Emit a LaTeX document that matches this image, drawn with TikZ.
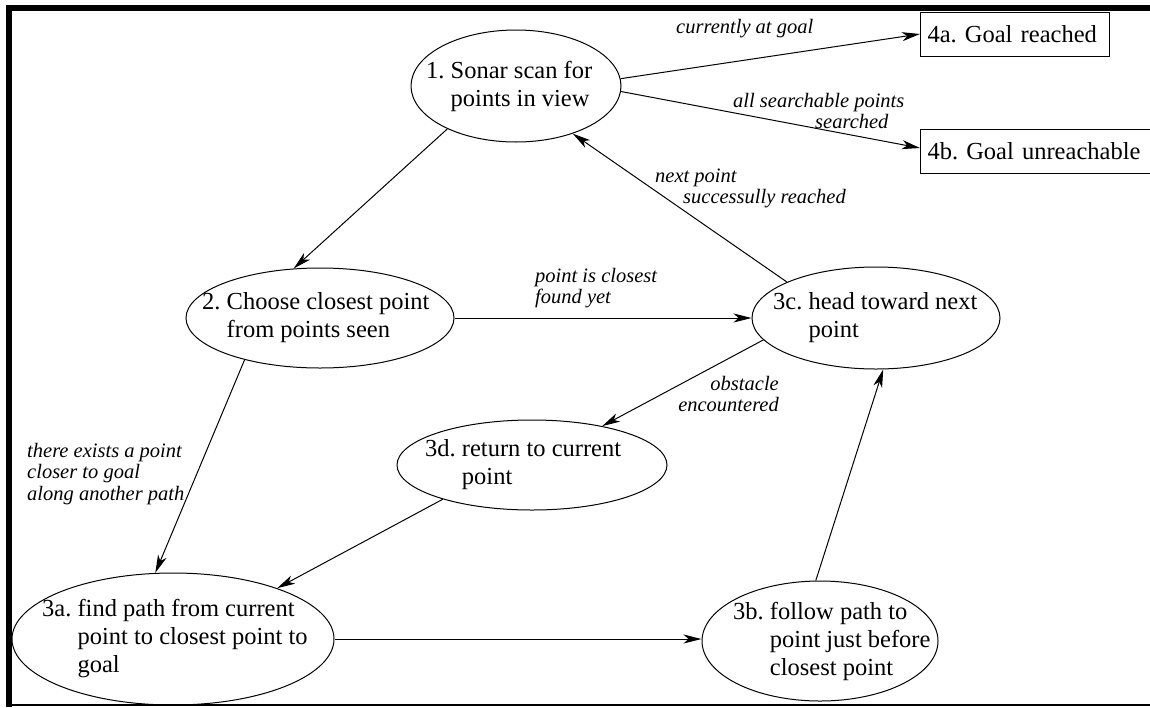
\documentclass[tikz,border=0pt]{standalone}
\usepackage{fontspec}
\setmainfont{Liberation Serif}
\usetikzlibrary{shapes.geometric,arrows.meta}
\newcommand{\lstr}{\rule{0pt}{16pt}}
\frenchspacing
\begin{document}
\begin{tikzpicture}[x=1pt,y=-1pt,
  state/.style={draw, ellipse, line width=1pt, inner sep=0pt},
  txt/.style={font=\fontsize{24.5}{28}\selectfont, align=left, inner sep=0pt, anchor=west},
  lbl/.style={font=\fontsize{20.5}{21.5}\selectfont\itshape, align=left, inner sep=0pt, anchor=north west},
  box/.style={draw, rectangle, line width=1pt, inner xsep=7pt, inner ysep=0pt, minimum height=44pt,
              align=left, anchor=west, font=\fontsize{24.5}{28}\selectfont},
  arr/.style={-{Stealth[length=18pt,width=9pt,inset=5pt]}, line width=1pt}]
\useasboundingbox (0,0) rectangle (1150,707);
\clip (0,0) rectangle (1150,707);
% frame
\fill[black] (6,5) rectangle (1150,11);
\fill[black] (6,5) rectangle (12,707);
\draw[line width=1.5pt] (6,705) -- (1150,705);
% states
\node[state, minimum width=210pt, minimum height=112pt] (n1) at (516,86) {};
\node[txt] (t1) at (426,86) {1. Sonar scan for\\\phantom{1.\ }points in view};
\node[state, minimum width=268pt, minimum height=100pt] (n2) at (320,318) {};
\node[txt] (t2) at (202,318) {2. Choose closest point\\\phantom{2.\ }from points seen};
\node[state, minimum width=248pt, minimum height=102pt] (n3c) at (876,318) {};
\node[txt] (t3c) at (773,318) {3c. head toward next\\\phantom{3c.\ }point};
\node[state, minimum width=270pt, minimum height=90pt] (n3d) at (532,465) {};
\node[txt] (t3d) at (425,465) {3d. return to current\\\phantom{3d.\ }point};
\node[state, minimum width=322pt, minimum height=132pt] (n3a) at (173,639) {};
\node[txt] (t3a) at (42,639) {3a. find path from current\\\phantom{3a.\ }point to closest point to\\\phantom{3a.\ }goal};
\node[state, minimum width=236pt, minimum height=120pt] (n3b) at (820,641) {};
\node[txt] (t3b) at (733,641) {3b. follow path to\\\phantom{3b.\ }point just before\\\phantom{3b.\ }closest point};
\node[box, text width=175pt] (n4a) at (920,34) {4a. Goal reached};
\node[box, text width=226pt] (n4b) at (920,151) {4b. Goal unreachable};
% connectors
\draw[arr] (n1.4.9) -- (n4a.west);
\draw[arr] (n1.-3.8) -- ([yshift=3pt]n4b.west);
\draw[arr] (n1.212.4) -- (n2.118.4);
\draw[arr] (n2.east) -- (n3c.west);
\draw[arr] (n3c.158) -- (n1.-40.8);
\draw[arr] (n3c.191.2) -- (n3d.29.1);
\draw[arr] (n2.209.7) -- (n3a.105.8);
\draw[arr] (n3d.201.4) -- (n3a.26.3);
\draw[arr] (n3a.east) -- (n3a.east -| n3b.west);
\draw[arr] (n3b.94.2) -- (n3c.278.7);
% labels
\node[lbl] (l1) at (676,17) {\lstr currently at goal};
\node[lbl] (l2) at (733,91) {\lstr all searchable points\\\hspace*{82pt}searched};
\node[lbl] (l3) at (655,166) {\lstr next point\\\hspace*{28pt}successully reached};
\node[lbl] (l4) at (535,266) {\lstr point is closest\\found yet};
\node[lbl, anchor=north east, align=right] (l5) at (779,374) {\lstr obstacle\\encountered};
\node[lbl] (l6) at (27,441) {\lstr there exists a point\\closer to goal\\along another path};
\end{tikzpicture}
\end{document}
